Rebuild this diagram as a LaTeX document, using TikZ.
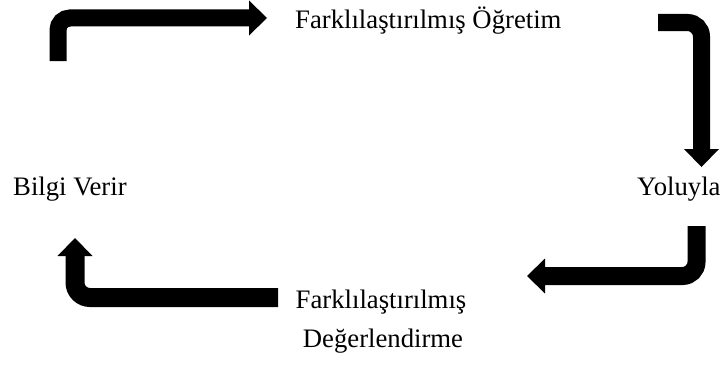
\documentclass[tikz,border=0pt]{standalone}
\usepackage{fontspec}
\setmainfont{Liberation Serif}
\usepackage{tikz}
\usepackage{tkz-euclide}
\usetikzlibrary{arrows.meta}

\tikzset{
  bigarrow/.style={line width=17bp,rounded corners=12bp,
    -{Triangle[length=18bp,width=35bp,line width=0pt]}},
  label/.style={inner sep=0pt,font=\fontsize{26.7bp}{31bp}\selectfont}
}

\begin{document}
\begin{tikzpicture}[x=1bp,y=1bp]
                \useasboundingbox (0,0) rectangle (720,374);

                % arrow corners
                \tkzDefPoint(58,313){A1}
                \tkzDefPoint(58,356){A2}
                \tkzDefPoint(267,356){A3}

                \tkzDefPoint(658,351.5){B1}
                \tkzDefPoint(701.5,351.5){B2}
                \tkzDefPoint(701.5,207){B3}

                \tkzDefPoint(696.5,148){C1}
                \tkzDefPoint(696.5,98){C2}
                \tkzDefPoint(527,98){C3}

                \tkzDefPoint(278,76.5){D1}
                \tkzDefPoint(75,76.5){D2}
                \tkzDefPoint(75,136){D3}

                \draw[bigarrow] (A1) -- (A2) -- (A3);
                \draw[bigarrow,rounded corners=14bp] (B1) -- (B2) -- (B3);
                \draw[bigarrow,line width=18bp,rounded corners=14bp] (C1) -- (C2) -- (C3);
                \draw[bigarrow,line width=19bp,rounded corners=15bp] (D1) -- (D2) -- (D3);

                % texts
                \node[label,anchor=base west] (ogretim) at (295,346) {Farklılaştırılmış Öğretim};
                \node[label,anchor=base west] (bilgi) at (13,179) {Bilgi Verir};
                \node[label,anchor=base west] (yoluyla) at (637,179) {Yoluyla};
                \node[label,anchor=base] (farkli) at (381,66) {Farklılaştırılmış};
                \node[label,anchor=base] (degerl) at (383,27) {Değerlendirme};
            \end{tikzpicture}
\end{document}
